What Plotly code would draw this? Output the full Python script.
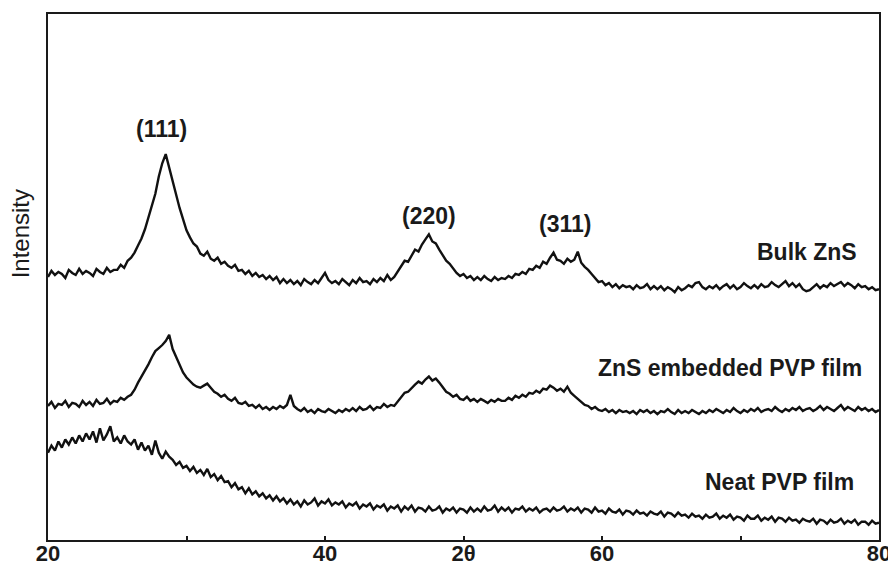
import numpy as np
import plotly.graph_objects as go

# 2-theta sampling grid (degrees), 0.25 deg step from 20 to 80
two_theta = np.round(np.arange(20.0, 80.0001, 0.25), 2)

bulk_zns = [
    259, 265, 261, 264, 262, 258, 266, 263, 261, 267, 262, 265, 263, 260, 267, 264,
    262, 268, 264, 266, 266, 271, 268, 275, 278, 283, 290, 297, 306, 318, 330, 341,
    358, 371, 380, 366, 352, 340, 327, 316, 305, 298, 292, 289, 282, 280, 284, 277,
    275, 278, 272, 274, 270, 268, 271, 265, 266, 262, 265, 260, 263, 259, 261, 257,
    260, 256, 259, 253, 257, 253, 256, 252, 255, 251, 257, 254, 252, 256, 253, 258,
    263, 256, 253, 255, 252, 257, 254, 251, 256, 253, 258, 254, 255, 252, 257, 254,
    258, 255, 261, 256, 259, 264, 270, 275, 274, 280, 286, 284, 291, 296, 301, 294,
    292, 286, 280, 275, 272, 267, 263, 260, 262, 258, 260, 256, 259, 256, 260, 257,
    255, 259, 256, 258, 257, 260, 258, 262, 261, 264, 262, 267, 266, 270, 268, 274,
    272, 278, 283, 276, 275, 272, 277, 274, 276, 284, 273, 269, 266, 262, 258, 254,
    255, 251, 253, 249, 252, 248, 251, 249, 250, 247, 251, 248, 249, 252, 247, 250,
    247, 250, 246, 249, 247, 244, 249, 246, 248, 251, 249, 253, 254, 249, 247, 250,
    248, 251, 247, 250, 252, 248, 251, 247, 249, 253, 250, 248, 251, 248, 252, 249,
    250, 254, 251, 249, 252, 255, 250, 253, 249, 252, 247, 245, 246, 249, 252, 248,
    251, 249, 253, 250, 252, 254, 250, 253, 251, 248, 252, 249, 250, 247, 249, 246,
    247,
]

zns_pvp_film = [
    132, 136, 130, 134, 133, 137, 131, 135, 134, 131, 137, 133, 136, 132, 138, 134,
    135, 139, 134, 137, 136, 140, 138, 141, 143, 148, 155, 161, 166, 173, 180, 186,
    189, 192, 196, 202, 188, 180, 172, 165, 160, 156, 153, 151, 150, 152, 154, 150,
    146, 144, 141, 143, 139, 137, 140, 135, 134, 136, 132, 133, 130, 133, 129, 131,
    128, 131, 129, 132, 130, 133, 143, 132, 129, 127, 130, 126, 128, 125, 129, 127,
    126, 129, 127, 125, 128, 126, 129, 127, 130, 127, 131, 128, 129, 132, 128, 131,
    130, 134, 131, 133, 132, 136, 140, 145, 146, 150, 153, 156, 154, 158, 161, 157,
    159, 155, 150, 146, 144, 141, 143, 139, 138, 141, 137, 139, 136, 139, 137, 135,
    138, 136, 139, 137, 137, 140, 138, 142, 140, 143, 141, 145, 144, 147, 145, 149,
    148, 152, 150, 147, 149, 146, 151, 145, 142, 139, 136, 133, 132, 129, 131, 128,
    127, 129, 126, 128, 125, 128, 126, 127, 125, 127, 124, 128, 126, 128, 125, 127,
    124, 127, 126, 129, 126, 124, 128, 125, 127, 125, 128, 126, 124, 127, 125, 128,
    126, 129, 127, 125, 128, 126, 130, 127, 125, 128, 126, 129, 127, 130, 126, 128,
    129, 127, 131, 128, 126, 129, 127, 130, 128, 131, 127, 129, 130, 127, 129, 132,
    128, 131, 129, 127, 130, 133, 128, 131, 129, 127, 131, 128, 130, 127, 129, 126,
    128,
]

neat_pvp_film = [
    86, 93, 88, 97, 91, 99, 94, 101, 95, 103, 97, 105, 99, 107, 96, 110,
    98, 104, 112, 97, 101, 95, 103, 97, 94, 99, 89, 96, 88, 93, 84, 98,
    86, 80, 87, 82, 79, 74, 77, 71, 73, 68, 72, 66, 69, 64, 70, 62,
    65, 59, 63, 57, 58, 52, 56, 50, 52, 46, 51, 45, 48, 43, 46, 41,
    44, 39, 43, 38, 41, 36, 40, 35, 38, 33, 39, 35, 37, 41, 34, 38,
    36, 40, 34, 37, 35, 38, 32, 36, 34, 37, 31, 35, 33, 36, 30, 34,
    32, 35, 29, 33, 31, 34, 28, 33, 30, 34, 28, 32, 31, 28, 33, 29,
    30, 33, 27, 31, 29, 32, 27, 31, 30, 27, 32, 28, 31, 28, 33, 29,
    30, 34, 28, 32, 29, 32, 27, 31, 30, 33, 28, 31, 29, 32, 27, 30,
    31, 28, 32, 29, 30, 33, 28, 31, 29, 32, 27, 31, 30, 27, 32, 28,
    29, 26, 31, 28, 27, 30, 25, 29, 28, 25, 29, 26, 27, 24, 28, 26,
    25, 28, 23, 27, 26, 23, 27, 24, 25, 22, 26, 23, 24, 21, 25, 22,
    23, 26, 21, 24, 22, 25, 20, 23, 22, 19, 24, 21, 21, 24, 19, 22,
    20, 23, 18, 22, 21, 18, 22, 19, 20, 17, 21, 19, 18, 21, 16, 20,
    19, 16, 20, 17, 18, 21, 16, 19, 17, 20, 15, 18, 18, 15, 19, 16,
    17,
]

tick_vals = [20, 30, 40, 50, 60, 70, 80]
tick_text = ["20", "", "40", "2θ", "60", "", "80"]

peak_labels = ["(111)", "(220)", "(311)"]
peak_x = [28.16, 47.5, 57.33]
peak_y = [405, 319, 311]

sample_labels = ["Bulk ZnS", "ZnS embedded PVP film", "Neat PVP film"]
sample_x = [74.8, 69.24, 72.78]
sample_y = [284, 169, 57]

FONT = "Liberation Sans, Arial, sans-serif"
INK = "#1a1a1a"

fig = go.Figure()
for series in (bulk_zns, zns_pvp_film, neat_pvp_film):
    fig.add_trace(go.Scatter(x=two_theta, y=series, mode="lines",
                             line=dict(color="#111111", width=2.4),
                             showlegend=False, hoverinfo="skip"))

lab_font = dict(family=FONT, size=23, color=INK)
for t, x, y in zip(peak_labels, peak_x, peak_y):
    fig.add_annotation(x=x, y=y, text="<b>%s</b>" % t, showarrow=False,
                       xanchor="center", yanchor="middle", font=lab_font)
for t, x, y in zip(sample_labels, sample_x, sample_y):
    fig.add_annotation(x=x, y=y, text="<b>%s</b>" % t, showarrow=False,
                       xanchor="center", yanchor="middle", font=lab_font)

fig.add_annotation(xref="paper", yref="paper", x=-0.0337, y=0.583,
                   text="Intensity", textangle=-90, showarrow=False,
                   xanchor="center", yanchor="middle",
                   font=dict(family=FONT, size=24, color=INK))

# page body adds an 8px offset, so the figure is 8px smaller on each axis
fig.update_layout(
    width=888, height=557,
    margin=dict(l=40, r=17, t=6, b=25, autoexpand=False),
    paper_bgcolor="white", plot_bgcolor="white",
    xaxis=dict(range=[20, 80], showgrid=False, zeroline=False, automargin=False,
               showline=True, linecolor=INK, linewidth=2, mirror=True,
               ticks="inside", ticklen=4, tickwidth=2, tickcolor=INK,
               tickvals=tick_vals, ticktext=tick_text, ticklabelstandoff=-7,
               tickfont=dict(family=FONT, size=22, color=INK, weight="bold")),
    yaxis=dict(range=[0, 518], showgrid=False, zeroline=False, automargin=False,
               showline=True, linecolor=INK, linewidth=2, mirror=True,
               ticks="", showticklabels=False),
)

fig.write_html("out.html")
